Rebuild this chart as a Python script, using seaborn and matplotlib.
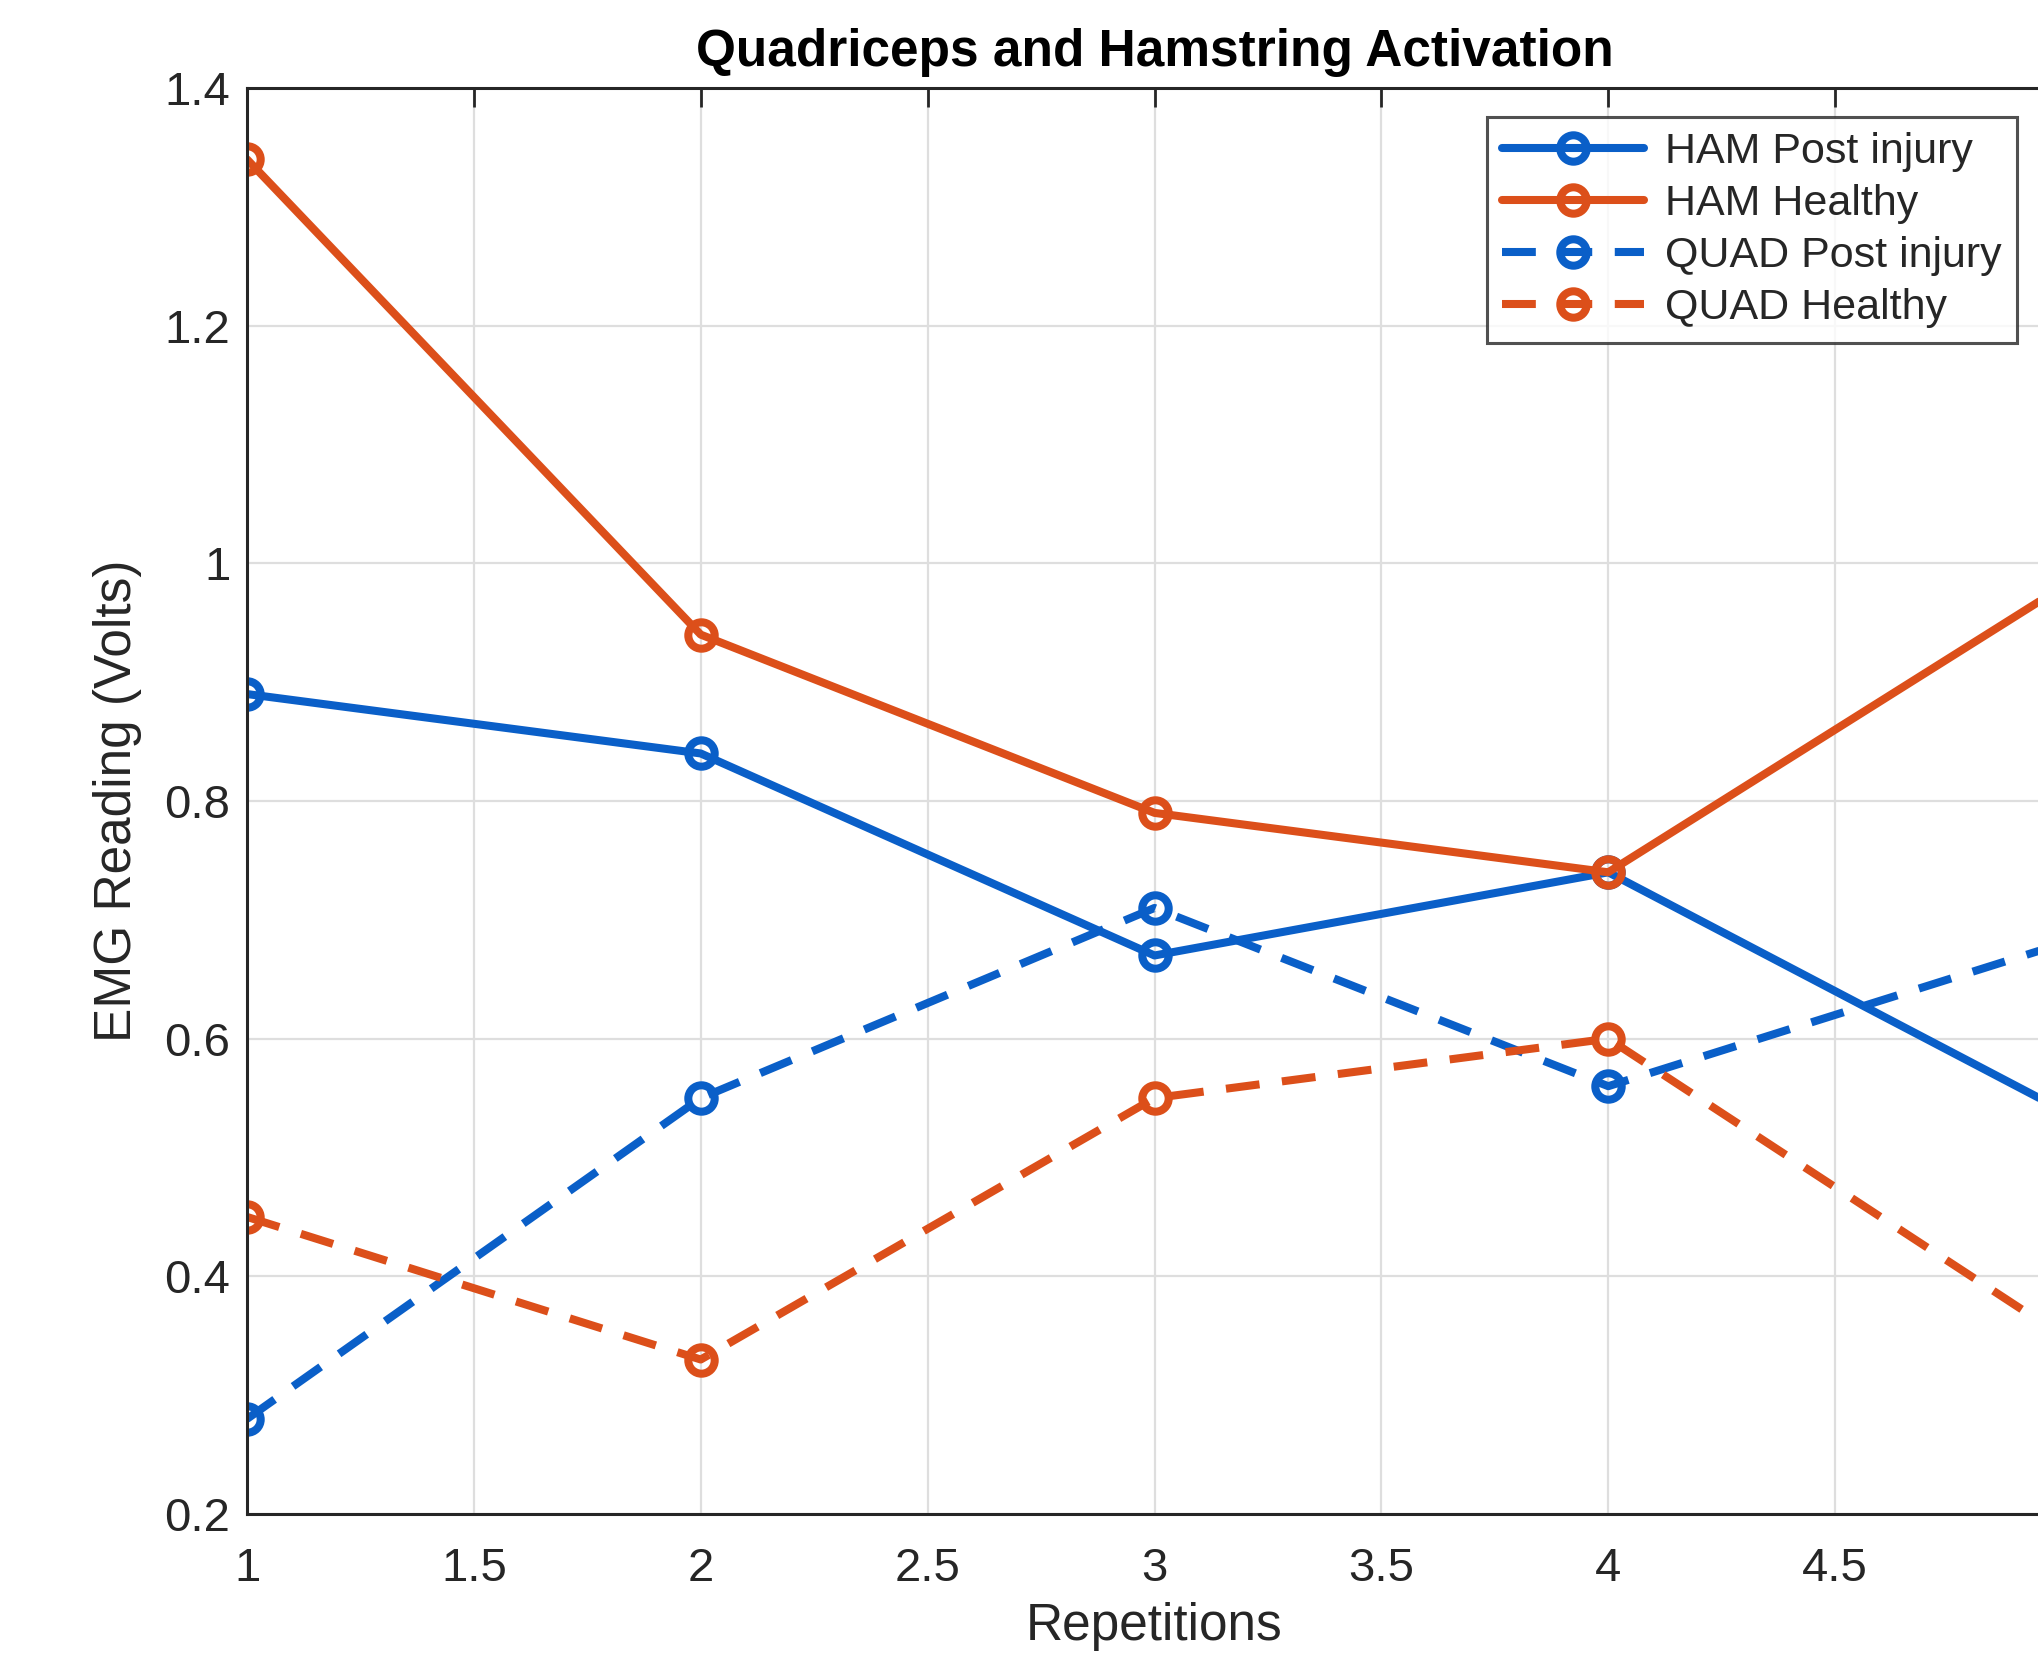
import pandas as pd
import matplotlib.pyplot as plt
import seaborn as sns

# Data
reps = [1, 2, 3, 4, 5]
ham_post = [0.89, 0.84, 0.67, 0.74, 0.54]
ham_healthy = [1.34, 0.94, 0.79, 0.74, 0.98]
quad_post = [0.28, 0.55, 0.71, 0.56, 0.68]
quad_healthy = [0.45, 0.33, 0.55, 0.60, 0.35]

series_names = ["HAM Post injury", "HAM Healthy", "QUAD Post injury", "QUAD Healthy"]
series_vals = [ham_post, ham_healthy, quad_post, quad_healthy]

blue = "#0a5fc8"
orange = "#dc4f1a"
colors = [blue, orange, blue, orange]
styles = ["-", "-", (0, (4.2, 2.8)), (0, (4.2, 2.8))]

# -----------------------------
# Style
# -----------------------------
sns.set_style("white")
plt.rcParams["font.family"] = ["Liberation Sans", "DejaVu Sans"]

fig = plt.figure(figsize=(2038 / 200, 1654 / 200), dpi=200)
# axes runs past the right edge like the cropped original
ax = fig.add_axes([247 / 2038, 1 - 1514 / 1654, (2062 - 247) / 2038, (1514 - 88) / 1654])

for name, vals, c, ls in zip(series_names, series_vals, colors, styles):
    df = pd.DataFrame({"Repetitions": reps, "EMG": vals})
    sns.lineplot(data=df, x="Repetitions", y="EMG", ax=ax, color=c,
                 linestyle=ls, linewidth=2.9, marker="o", markersize=9.5,
                 markerfacecolor="none", markeredgecolor=c, markeredgewidth=2.9,
                 label=name)

ax.set_xlim(1, 5)
ax.set_ylim(0.2, 1.4)
ax.set_xticks([1, 1.5, 2, 2.5, 3, 3.5, 4, 4.5, 5])
# the "5" label falls outside the cropped figure
ax.set_xticklabels(["1", "1.5", "2", "2.5", "3", "3.5", "4", "4.5", ""])
ax.set_yticks([0.2, 0.4, 0.6, 0.8, 1.0, 1.2, 1.4])
ax.set_yticklabels(["0.2", "0.4", "0.6", "0.8", "1", "1.2", "1.4"])

ax.grid(True, color="#dedede", linewidth=0.8)
ax.set_axisbelow(True)
for s in ax.spines.values():
    s.set_color("#262626")
    s.set_linewidth(1.1)

ax.tick_params(axis="both", direction="in", length=7, width=1.0, color="#262626",
               labelsize=17, labelcolor="#262626", top=True, right=False)
ax.tick_params(axis="x", pad=12)
ax.tick_params(axis="y", pad=6)

ax.set_xlabel("Repetitions", fontsize=18.5, color="#262626", labelpad=4)
ax.set_ylabel("EMG Reading (Volts)", fontsize=18.5, color="#262626", labelpad=8)
ax.set_title("Quadriceps and Hamstring Activation", fontsize=18.5, fontweight="bold",
             color="black", pad=8)

leg = ax.legend(loc="upper right", bbox_to_anchor=(2017 / 2038, 1 - 117 / 1654),
                bbox_transform=fig.transFigure, fontsize=15.5, frameon=True,
                fancybox=False, edgecolor="#262626", handlelength=3.3,
                handletextpad=0.5, borderpad=0.35, labelspacing=0.28,
                borderaxespad=0)
leg.get_frame().set_linewidth(1.1)

plt.savefig("out.png", dpi=200)
